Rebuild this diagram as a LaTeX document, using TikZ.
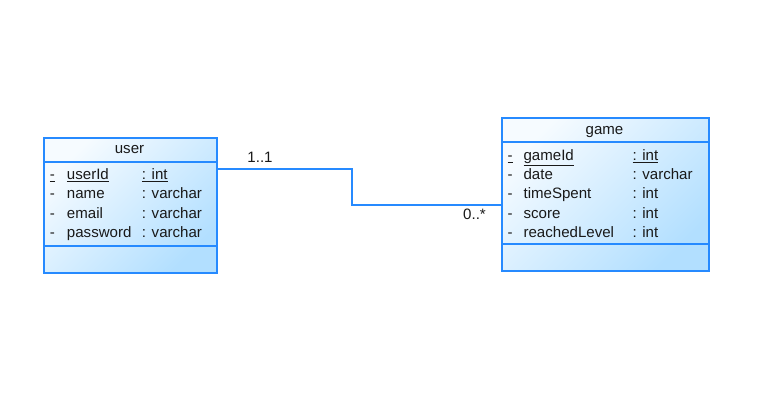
\documentclass[tikz,border=0pt]{standalone}
\usepackage{fontspec}
\setmainfont{Liberation Sans}
\begin{document}
\begin{tikzpicture}[x=0.75pt,y=-0.75pt,
  bordercol/.style={draw=boxblue, line width=1.2pt},
  classbox/.style={bordercol, shading=axis, top color=boxlight, bottom color=boxdark, shading angle=45, inner sep=0pt, anchor=north west},
  sepline/.style={draw=boxblue, line width=1.2pt},
  txt/.style={inner sep=0pt, anchor=base west, font=\fontsize{11.3}{13}\selectfont, text=txtcol},
  ttl/.style={inner sep=0pt, anchor=base, font=\fontsize{11.3}{13}\selectfont, text=txtcol},
  conn/.style={draw=boxblue, line width=1.1pt},
  mult/.style={inner sep=0pt, anchor=center, font=\fontsize{11.3}{13}\selectfont, text=txtcol}]
\definecolor{boxblue}{RGB}{38,138,255}
\definecolor{boxlight}{RGB}{246,251,255}
\definecolor{boxdark}{RGB}{178,223,255}
\definecolor{txtcol}{RGB}{25,25,25}
\useasboundingbox[fill=white] (0,0) rectangle (766,412);

% user class
\node[classbox, minimum width=173*0.75pt, minimum height=135*0.75pt] (user) at (43,137) {};
\coordinate (us1) at (0,162);
\coordinate (us2) at (0,246);
\draw[sepline] (user.west |- us1) -- (user.east |- us1);
\draw[sepline] (user.west |- us2) -- (user.east |- us2);
\node[ttl] (usert) at (129.5,153.3) {user};
\node[txt] (ud1) at (49.5,179.5) {\underline{-}};
\node[txt] (un1) at (66.7,179.5) {\underline{userId}};
\node[txt] (ut1) at (141.7,179.5) {\underline{: int}};
\node[txt] (ud2) at (49.5,198.8) {-};
\node[txt] (un2) at (66.7,198.8) {name};
\node[txt] (ut2) at (141.7,198.8) {: varchar};
\node[txt] (ud3) at (49.5,218) {-};
\node[txt] (un3) at (66.7,218) {email};
\node[txt] (ut3) at (141.7,218) {: varchar};
\node[txt] (ud4) at (49.5,237.3) {-};
\node[txt] (un4) at (66.7,237.3) {password};
\node[txt] (ut4) at (141.7,237.3) {: varchar};

% game class
\node[classbox, minimum width=207*0.75pt, minimum height=153*0.75pt] (game) at (501,117) {};
\coordinate (gs1) at (0,142);
\coordinate (gs2) at (0,244);
\draw[sepline] (game.west |- gs1) -- (game.east |- gs1);
\draw[sepline] (game.west |- gs2) -- (game.east |- gs2);
\node[ttl] (gamet) at (604.5,134.3) {game};
\node[txt] (gd1) at (507.3,160) {\underline{-}};
\node[txt] (gn1) at (523.3,160) {\underline{gameId}};
\node[txt] (gt1) at (632.3,160) {\underline{: int}};
\node[txt] (gd2) at (507.3,179.3) {-};
\node[txt] (gn2) at (523.3,179.3) {date};
\node[txt] (gt2) at (632.3,179.3) {: varchar};
\node[txt] (gd3) at (507.3,198.6) {-};
\node[txt] (gn3) at (523.3,198.6) {timeSpent};
\node[txt] (gt3) at (632.3,198.6) {: int};
\node[txt] (gd4) at (507.3,218) {-};
\node[txt] (gn4) at (523.3,218) {score};
\node[txt] (gt4) at (632.3,218) {: int};
\node[txt] (gd5) at (507.3,237.3) {-};
\node[txt] (gn5) at (523.3,237.3) {reachedLevel};
\node[txt] (gt5) at (632.3,237.3) {: int};

% association
\coordinate (b1) at (352,169);
\coordinate (b2) at (352,205);
\draw[conn] (user.east |- b1) -- (b1) -- (b2) -- (game.west |- b2);
\node[mult] (m1) at (260,157.5) {1..1};
\node[mult] (m2) at (474.5,214) {0..*};
\end{tikzpicture}
\end{document}
